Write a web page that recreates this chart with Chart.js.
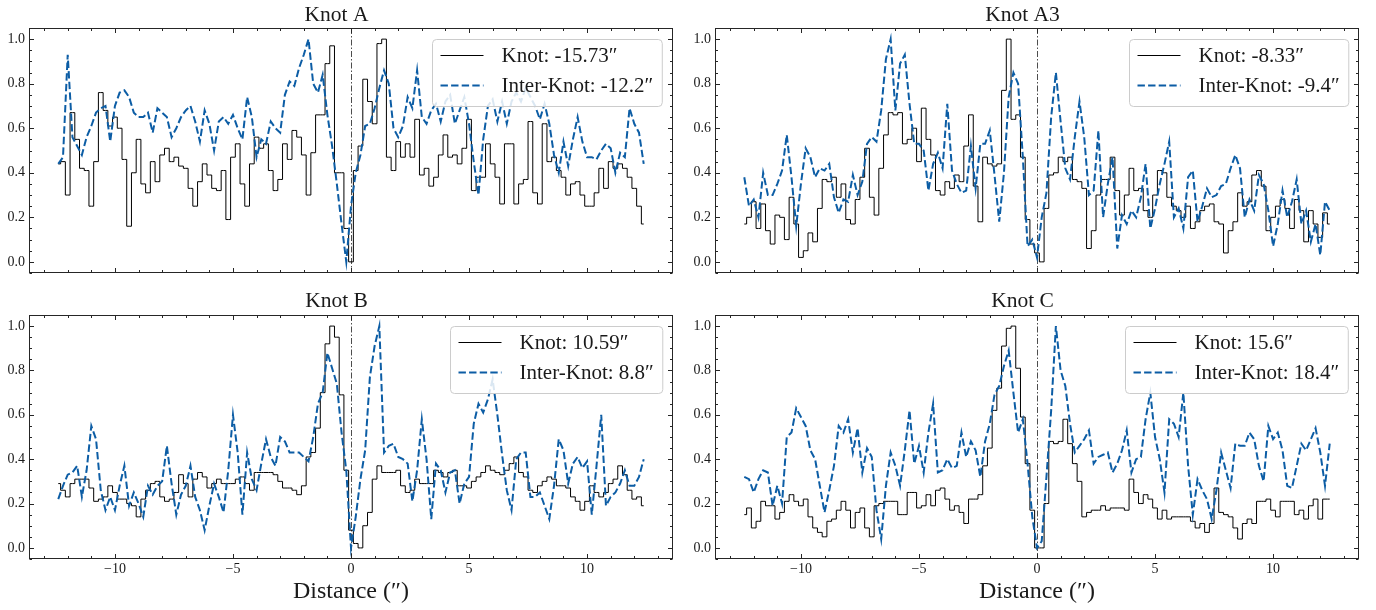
<!DOCTYPE html>
<html>
<head>
<meta charset="utf-8">
<title>Knot profiles</title>
<script src="https://cdn.jsdelivr.net/npm/chart.js@4.4.1/dist/chart.umd.min.js"></script>
<style>
  html, body { margin: 0; padding: 0; background: #fff; }
  #figure { position: relative; width: 1376px; height: 610px; overflow: hidden; }
  #figure canvas { position: absolute; }
</style>
</head>
<body>
<div id="figure">
  <canvas id="panelA" width="686" height="286" style="left:0;top:0"></canvas>
  <canvas id="panelA3" width="690" height="286" style="left:686px;top:0"></canvas>
  <canvas id="panelB" width="686" height="324" style="left:0;top:286px"></canvas>
  <canvas id="panelC" width="690" height="324" style="left:686px;top:286px"></canvas>
</div>
<script>
// profiles are sampled every 0.2″ from −12.4″ to 12.4″
const distances = [];
for (let i = 0; i < 125; i++) distances.push(Math.round((-12.4 + 0.2 * i) * 10) / 10);

const xTicks = [-10, -5, 0, 5, 10];
const yTicks = [0, 0.2, 0.4, 0.6, 0.8, 1.0];

const panelTitles = ["Knot A", "Knot A3", "Knot B", "Knot C"];
const knotOffsets = ["-15.73", "-8.33", "10.59", "15.6"];
const interOffsets = ["-12.2", "-9.4", "8.8", "18.4"];

const knotA = [
  0.44, 0.45, 0.30, 0.67, 0.55, 0.42, 0.41, 0.25, 0.45, 0.76,
  0.68, 0.61, 0.65, 0.60, 0.46, 0.16, 0.40, 0.55, 0.35, 0.31,
  0.45, 0.36, 0.48, 0.51, 0.45, 0.47, 0.43, 0.42, 0.33, 0.25,
  0.36, 0.44, 0.39, 0.33, 0.32, 0.41, 0.19, 0.47, 0.53, 0.35,
  0.25, 0.44, 0.56, 0.51, 0.53, 0.41, 0.32, 0.37, 0.53, 0.46,
  0.59, 0.56, 0.48, 0.30, 0.49, 0.66, 0.66, 0.89, 0.97, 0.40,
  0.40, 0.15, 0.00, 0.41, 0.52, 0.82, 0.72, 0.62, 0.98, 1.00,
  0.47, 0.41, 0.54, 0.47, 0.53, 0.47, 0.64, 0.39, 0.42, 0.34,
  0.38, 0.48, 0.57, 0.47, 0.48, 0.44, 0.51, 0.64, 0.32, 0.38,
  0.38, 0.53, 0.44, 0.38, 0.26, 0.53, 0.53, 0.26, 0.35, 0.37,
  0.63, 0.31, 0.26, 0.62, 0.45, 0.47, 0.41, 0.38, 0.30, 0.35,
  0.36, 0.30, 0.25, 0.25, 0.31, 0.42, 0.33, 0.45, 0.42, 0.44,
  0.42, 0.38, 0.33, 0.25, 0.17
];
const interA = [
  0.44, 0.47, 0.93, 0.56, 0.52, 0.48, 0.56, 0.61, 0.67, 0.69,
  0.70, 0.54, 0.70, 0.76, 0.77, 0.74, 0.67, 0.65, 0.65, 0.67,
  0.58, 0.69, 0.67, 0.65, 0.56, 0.60, 0.65, 0.68, 0.70, 0.63,
  0.54, 0.68, 0.62, 0.50, 0.63, 0.65, 0.62, 0.66, 0.60, 0.55,
  0.74, 0.65, 0.47, 0.55, 0.53, 0.63, 0.60, 0.58, 0.75, 0.81,
  0.79, 0.87, 0.93, 1.00, 0.80, 0.76, 0.84, 0.66, 0.52, 0.35,
  0.17, 0.00, 0.25, 0.40, 0.48, 0.61, 0.62, 0.69, 0.78, 0.86,
  0.80, 0.60, 0.56, 0.61, 0.74, 0.69, 0.86, 0.65, 0.62, 0.68,
  0.71, 0.63, 0.72, 0.75, 0.62, 0.68, 0.74, 0.62, 0.45, 0.30,
  0.55, 0.70, 0.73, 0.63, 0.72, 0.62, 0.72, 0.76, 0.72, 0.78,
  0.74, 0.70, 0.64, 0.71, 0.62, 0.48, 0.40, 0.54, 0.43, 0.55,
  0.65, 0.54, 0.47, 0.47, 0.46, 0.50, 0.53, 0.51, 0.40, 0.49,
  0.47, 0.69, 0.62, 0.58, 0.44
];

const knotA3 = [
  0.17, 0.20, 0.27, 0.15, 0.26, 0.14, 0.08, 0.21, 0.20, 0.10,
  0.29, 0.17, 0.02, 0.05, 0.13, 0.09, 0.24, 0.37, 0.36, 0.38,
  0.29, 0.35, 0.19, 0.17, 0.28, 0.38, 0.51, 0.29, 0.21, 0.42,
  0.57, 0.67, 0.66, 0.67, 0.53, 0.55, 0.60, 0.45, 0.69, 0.55,
  0.48, 0.32, 0.30, 0.36, 0.33, 0.39, 0.36, 0.52, 0.66, 0.34,
  0.18, 0.47, 0.44, 0.43, 0.44, 0.77, 1.00, 0.64, 0.66, 0.47,
  0.19, 0.08, 0.04, 0.00, 0.24, 0.39, 0.40, 0.47, 0.45, 0.47,
  0.37, 0.36, 0.33, 0.06, 0.14, 0.30, 0.37, 0.37, 0.47, 0.32,
  0.21, 0.30, 0.42, 0.32, 0.33, 0.23, 0.20, 0.30, 0.41, 0.40,
  0.29, 0.25, 0.23, 0.20, 0.25, 0.15, 0.18, 0.23, 0.25, 0.26,
  0.18, 0.17, 0.04, 0.14, 0.18, 0.31, 0.25, 0.27, 0.39, 0.41,
  0.34, 0.14, 0.20, 0.25, 0.28, 0.24, 0.15, 0.28, 0.23, 0.09,
  0.23, 0.17, 0.11, 0.22, 0.17
];
const interA3 = [
  0.38, 0.25, 0.28, 0.20, 0.40, 0.30, 0.30, 0.35, 0.41, 0.57,
  0.38, 0.16, 0.35, 0.51, 0.47, 0.38, 0.42, 0.41, 0.44, 0.29,
  0.22, 0.28, 0.27, 0.39, 0.30, 0.36, 0.53, 0.56, 0.54, 0.68,
  0.91, 1.00, 0.68, 0.89, 0.93, 0.71, 0.53, 0.53, 0.50, 0.32,
  0.44, 0.49, 0.42, 0.71, 0.41, 0.35, 0.31, 0.32, 0.52, 0.33,
  0.53, 0.53, 0.59, 0.39, 0.18, 0.40, 0.74, 0.85, 0.80, 0.47,
  0.07, 0.10, 0.02, 0.20, 0.31, 0.65, 0.85, 0.63, 0.42, 0.37,
  0.56, 0.72, 0.56, 0.30, 0.32, 0.59, 0.20, 0.35, 0.47, 0.06,
  0.21, 0.17, 0.23, 0.20, 0.29, 0.44, 0.15, 0.24, 0.35, 0.44,
  0.54, 0.20, 0.24, 0.15, 0.38, 0.41, 0.18, 0.25, 0.33, 0.29,
  0.30, 0.34, 0.35, 0.42, 0.48, 0.42, 0.20, 0.28, 0.23, 0.39,
  0.35, 0.23, 0.07, 0.17, 0.32, 0.20, 0.27, 0.37, 0.17, 0.23,
  0.09, 0.17, 0.03, 0.27, 0.23
];

const knotB = [
  0.29, 0.26, 0.23, 0.29, 0.31, 0.31, 0.31, 0.27, 0.21, 0.22,
  0.23, 0.28, 0.25, 0.22, 0.22, 0.20, 0.19, 0.14, 0.22, 0.26,
  0.29, 0.30, 0.23, 0.21, 0.22, 0.25, 0.33, 0.29, 0.23, 0.31,
  0.34, 0.32, 0.27, 0.29, 0.31, 0.29, 0.29, 0.29, 0.31, 0.32,
  0.29, 0.26, 0.34, 0.34, 0.34, 0.34, 0.33, 0.30, 0.27, 0.27,
  0.26, 0.24, 0.28, 0.41, 0.43, 0.54, 0.70, 0.92, 1.00, 0.95,
  0.69, 0.35, 0.08, 0.02, 0.00, 0.10, 0.16, 0.31, 0.37, 0.34,
  0.34, 0.34, 0.35, 0.28, 0.25, 0.26, 0.31, 0.29, 0.29, 0.29,
  0.35, 0.34, 0.32, 0.34, 0.35, 0.28, 0.28, 0.27, 0.30, 0.32,
  0.34, 0.37, 0.35, 0.34, 0.33, 0.35, 0.38, 0.41, 0.34, 0.32,
  0.26, 0.25, 0.28, 0.30, 0.32, 0.31, 0.28, 0.28, 0.27, 0.23,
  0.21, 0.17, 0.21, 0.28, 0.25, 0.23, 0.25, 0.29, 0.31, 0.37,
  0.33, 0.26, 0.22, 0.23, 0.19
];
const interB = [
  0.22, 0.28, 0.33, 0.34, 0.37, 0.23, 0.35, 0.55, 0.49, 0.26,
  0.17, 0.23, 0.17, 0.28, 0.37, 0.19, 0.25, 0.20, 0.14, 0.28,
  0.24, 0.28, 0.30, 0.46, 0.29, 0.15, 0.24, 0.28, 0.37, 0.23,
  0.17, 0.08, 0.19, 0.29, 0.23, 0.16, 0.35, 0.60, 0.43, 0.15,
  0.43, 0.31, 0.26, 0.38, 0.49, 0.41, 0.37, 0.50, 0.48, 0.43,
  0.43, 0.43, 0.41, 0.39, 0.50, 0.65, 0.70, 0.88, 0.81, 0.74,
  0.52, 0.35, 0.00, 0.14, 0.31, 0.44, 0.77, 0.91, 1.00, 0.43,
  0.46, 0.47, 0.41, 0.40, 0.38, 0.21, 0.35, 0.58, 0.40, 0.13,
  0.38, 0.35, 0.25, 0.34, 0.35, 0.20, 0.29, 0.32, 0.56, 0.65,
  0.61, 0.67, 0.76, 0.60, 0.42, 0.26, 0.17, 0.40, 0.43, 0.43,
  0.23, 0.23, 0.25, 0.19, 0.13, 0.28, 0.49, 0.44, 0.29, 0.38,
  0.41, 0.36, 0.39, 0.15, 0.37, 0.60, 0.19, 0.23, 0.25, 0.29,
  0.35, 0.28, 0.28, 0.32, 0.40
];

const knotC = [
  0.15, 0.18, 0.09, 0.12, 0.21, 0.19, 0.19, 0.13, 0.16, 0.21,
  0.24, 0.21, 0.19, 0.22, 0.14, 0.09, 0.07, 0.05, 0.12, 0.13,
  0.17, 0.21, 0.17, 0.09, 0.16, 0.18, 0.09, 0.05, 0.19, 0.20,
  0.21, 0.21, 0.21, 0.15, 0.15, 0.25, 0.25, 0.18, 0.19, 0.24,
  0.19, 0.26, 0.27, 0.22, 0.17, 0.19, 0.16, 0.11, 0.22, 0.22,
  0.24, 0.37, 0.45, 0.62, 0.72, 0.91, 0.99, 1.00, 0.81, 0.59,
  0.38, 0.17, 0.00, 0.00, 0.20, 0.48, 0.47, 0.48, 0.58, 0.47,
  0.38, 0.30, 0.14, 0.16, 0.17, 0.17, 0.19, 0.17, 0.18, 0.18,
  0.18, 0.17, 0.31, 0.25, 0.20, 0.24, 0.22, 0.18, 0.13, 0.17,
  0.13, 0.14, 0.14, 0.14, 0.14, 0.12, 0.09, 0.11, 0.07, 0.11,
  0.27, 0.16, 0.15, 0.14, 0.09, 0.04, 0.11, 0.13, 0.11, 0.21,
  0.21, 0.22, 0.17, 0.14, 0.21, 0.21, 0.21, 0.15, 0.17, 0.13,
  0.19, 0.22, 0.13, 0.22, 0.22
];
const interC = [
  0.32, 0.31, 0.25, 0.31, 0.35, 0.34, 0.19, 0.28, 0.20, 0.50,
  0.52, 0.63, 0.59, 0.55, 0.44, 0.40, 0.28, 0.16, 0.26, 0.37,
  0.55, 0.52, 0.58, 0.43, 0.54, 0.34, 0.45, 0.41, 0.17, 0.04,
  0.28, 0.43, 0.37, 0.28, 0.44, 0.62, 0.38, 0.46, 0.34, 0.52,
  0.65, 0.34, 0.35, 0.40, 0.36, 0.37, 0.52, 0.41, 0.48, 0.44,
  0.32, 0.48, 0.56, 0.69, 0.73, 0.82, 0.89, 0.70, 0.52, 0.58,
  0.38, 0.14, 0.00, 0.03, 0.32, 0.62, 1.00, 0.80, 0.73, 0.56,
  0.43, 0.46, 0.49, 0.53, 0.38, 0.41, 0.42, 0.43, 0.34, 0.38,
  0.44, 0.53, 0.34, 0.40, 0.41, 0.58, 0.70, 0.50, 0.40, 0.25,
  0.58, 0.56, 0.50, 0.70, 0.37, 0.15, 0.31, 0.26, 0.22, 0.13,
  0.26, 0.43, 0.35, 0.27, 0.47, 0.46, 0.46, 0.52, 0.49, 0.37,
  0.30, 0.55, 0.49, 0.52, 0.44, 0.28, 0.27, 0.37, 0.47, 0.44,
  0.49, 0.54, 0.43, 0.28, 0.47
];

const SERIF = "'Liberation Serif', 'DejaVu Serif', serif";
const INK = "#1a1a1a";
const BLUE = "#0C5DA5";

function formatDistance(v) {
  return v < 0 ? "\u2212" + Math.abs(v) : String(v);
}

function drawLegend(chart) {
  const { ctx, chartArea: a } = chart;
  const sets = chart.data.datasets;
  ctx.font = "21px " + SERIF;
  const textW = Math.max(...sets.map((d) => ctx.measureText(d.label).width));
  const w = 69 + textW + 9;
  const h = 67;
  const bx = Math.round(a.right - 11 - w) + 0.5;
  const by = Math.round(a.top + 11) + 0.5;

  ctx.beginPath();
  ctx.roundRect(bx, by, w, h, 4);
  ctx.fillStyle = "rgba(255,255,255,0.85)";
  ctx.fill();
  ctx.strokeStyle = "#cccccc";
  ctx.lineWidth = 1;
  ctx.setLineDash([]);
  ctx.stroke();

  sets.forEach((d, i) => {
    const ly = by + 16 + i * 30;
    ctx.beginPath();
    ctx.strokeStyle = d.borderColor;
    ctx.lineWidth = d.borderWidth;
    ctx.setLineDash(d.borderDash || []);
    ctx.moveTo(bx + 8, ly);
    ctx.lineTo(bx + 51, ly);
    ctx.stroke();
    ctx.setLineDash([]);
    ctx.fillStyle = INK;
    ctx.textAlign = "left";
    ctx.textBaseline = "middle";
    ctx.fillText(d.label, bx + 69, ly + 1);
  });
}

// frame, inward ticks on every side, zero marker and legend
const framePlugin = {
  id: "panelFrame",
  beforeDatasetsDraw(chart) {
    const { ctx, chartArea: a, scales } = chart;
    const px = Math.round(scales.x.getPixelForValue(0)) + 0.5;
    ctx.save();
    ctx.strokeStyle = "#4d4d4d";
    ctx.lineWidth = 1;
    ctx.setLineDash([6, 2, 1.5, 2]);
    ctx.beginPath();
    ctx.moveTo(px, a.top);
    ctx.lineTo(px, a.bottom);
    ctx.stroke();
    ctx.restore();
  },
  afterDraw(chart) {
    const { ctx, chartArea: a, scales } = chart;
    const L = Math.round(a.left) + 0.5;
    const R = Math.round(a.right) - 0.5;
    const T = Math.round(a.top) + 0.5;
    const B = Math.round(a.bottom) - 0.5;
    ctx.save();
    ctx.strokeStyle = "#262626";
    ctx.lineWidth = 1;
    ctx.setLineDash([]);
    ctx.strokeRect(L, T, R - L, B - T);

    ctx.beginPath();
    for (let v = -13; v <= 13; v++) {
      const len = xTicks.includes(v) ? 4.5 : 2.5;
      const p = Math.round(scales.x.getPixelForValue(v)) + 0.5;
      ctx.moveTo(p, B); ctx.lineTo(p, B - len);
      ctx.moveTo(p, T); ctx.lineTo(p, T + len);
    }
    for (let k = -1; k <= 21; k++) {
      const v = k * 0.05;
      const len = k % 4 === 0 ? 4.5 : 2.5;
      const p = Math.round(scales.y.getPixelForValue(v)) + 0.5;
      ctx.moveTo(L, p); ctx.lineTo(L + len, p);
      ctx.moveTo(R, p); ctx.lineTo(R - len, p);
    }
    ctx.stroke();

    drawLegend(chart);
    ctx.restore();
  }
};

function makePanel(canvasId, idx, knot, inter, opts) {
  const points = (vals) => vals.map((v, i) => ({ x: distances[i], y: v }));
  return new Chart(document.getElementById(canvasId).getContext("2d"), {
    type: "line",
    data: {
      datasets: [
        {
          label: "Knot: " + knotOffsets[idx] + "\u2033",
          data: points(knot),
          stepped: "middle",
          borderColor: "#000000",
          borderWidth: 1,
          pointRadius: 0,
          fill: false,
          order: 1
        },
        {
          label: "Inter-Knot: " + interOffsets[idx] + "\u2033",
          data: points(inter),
          borderColor: BLUE,
          borderWidth: 2,
          borderDash: [7.4, 3.2],
          pointRadius: 0,
          tension: 0,
          fill: false,
          order: 0
        }
      ]
    },
    options: {
      responsive: false,
      animation: false,
      events: [],
      layout: { padding: { left: 0, right: opts.padRight, top: 0, bottom: 0 } },
      plugins: {
        legend: { display: false },
        tooltip: { enabled: false },
        title: {
          display: true,
          text: panelTitles[idx],
          color: INK,
          font: { family: SERIF, size: 21.5, weight: "normal" },
          padding: { top: 2, bottom: opts.titleGap }
        }
      },
      scales: {
        x: {
          type: "linear",
          min: -13.64,
          max: 13.64,
          grid: { display: false, drawTicks: false },
          border: { display: false },
          afterBuildTicks: (s) => { s.ticks = xTicks.map((v) => ({ value: v })); },
          afterFit: (s) => { s.height = opts.xHeight; },
          ticks: {
            display: opts.showX,
            color: INK,
            padding: 2,
            maxRotation: 0,
            font: { family: SERIF, size: 14 },
            callback: (v) => formatDistance(v)
          },
          title: {
            display: opts.showX,
            text: "Distance (\u2033)",
            color: INK,
            font: { family: SERIF, size: 24 },
            padding: { top: 0, bottom: 4 }
          }
        },
        y: {
          type: "linear",
          min: -0.05,
          max: 1.05,
          grid: { display: false, drawTicks: false },
          border: { display: false },
          afterBuildTicks: (s) => { s.ticks = yTicks.map((v) => ({ value: v })); },
          afterFit: (s) => { s.width = 29; },
          ticks: {
            color: INK,
            padding: 4,
            font: { family: SERIF, size: 14 },
            callback: (v) => Number(v).toFixed(1)
          }
        }
      }
    },
    plugins: [framePlugin]
  });
}

makePanel("panelA", 0, knotA, interA, { padRight: 13, titleGap: 0.2, xHeight: 13, showX: false });
makePanel("panelA3", 1, knotA3, interA3, { padRight: 17, titleGap: 0.2, xHeight: 13, showX: false });
makePanel("panelB", 2, knotB, interB, { padRight: 13, titleGap: 1.2, xHeight: 51, showX: true });
makePanel("panelC", 3, knotC, interC, { padRight: 17, titleGap: 1.2, xHeight: 51, showX: true });
</script>
</body>
</html>
